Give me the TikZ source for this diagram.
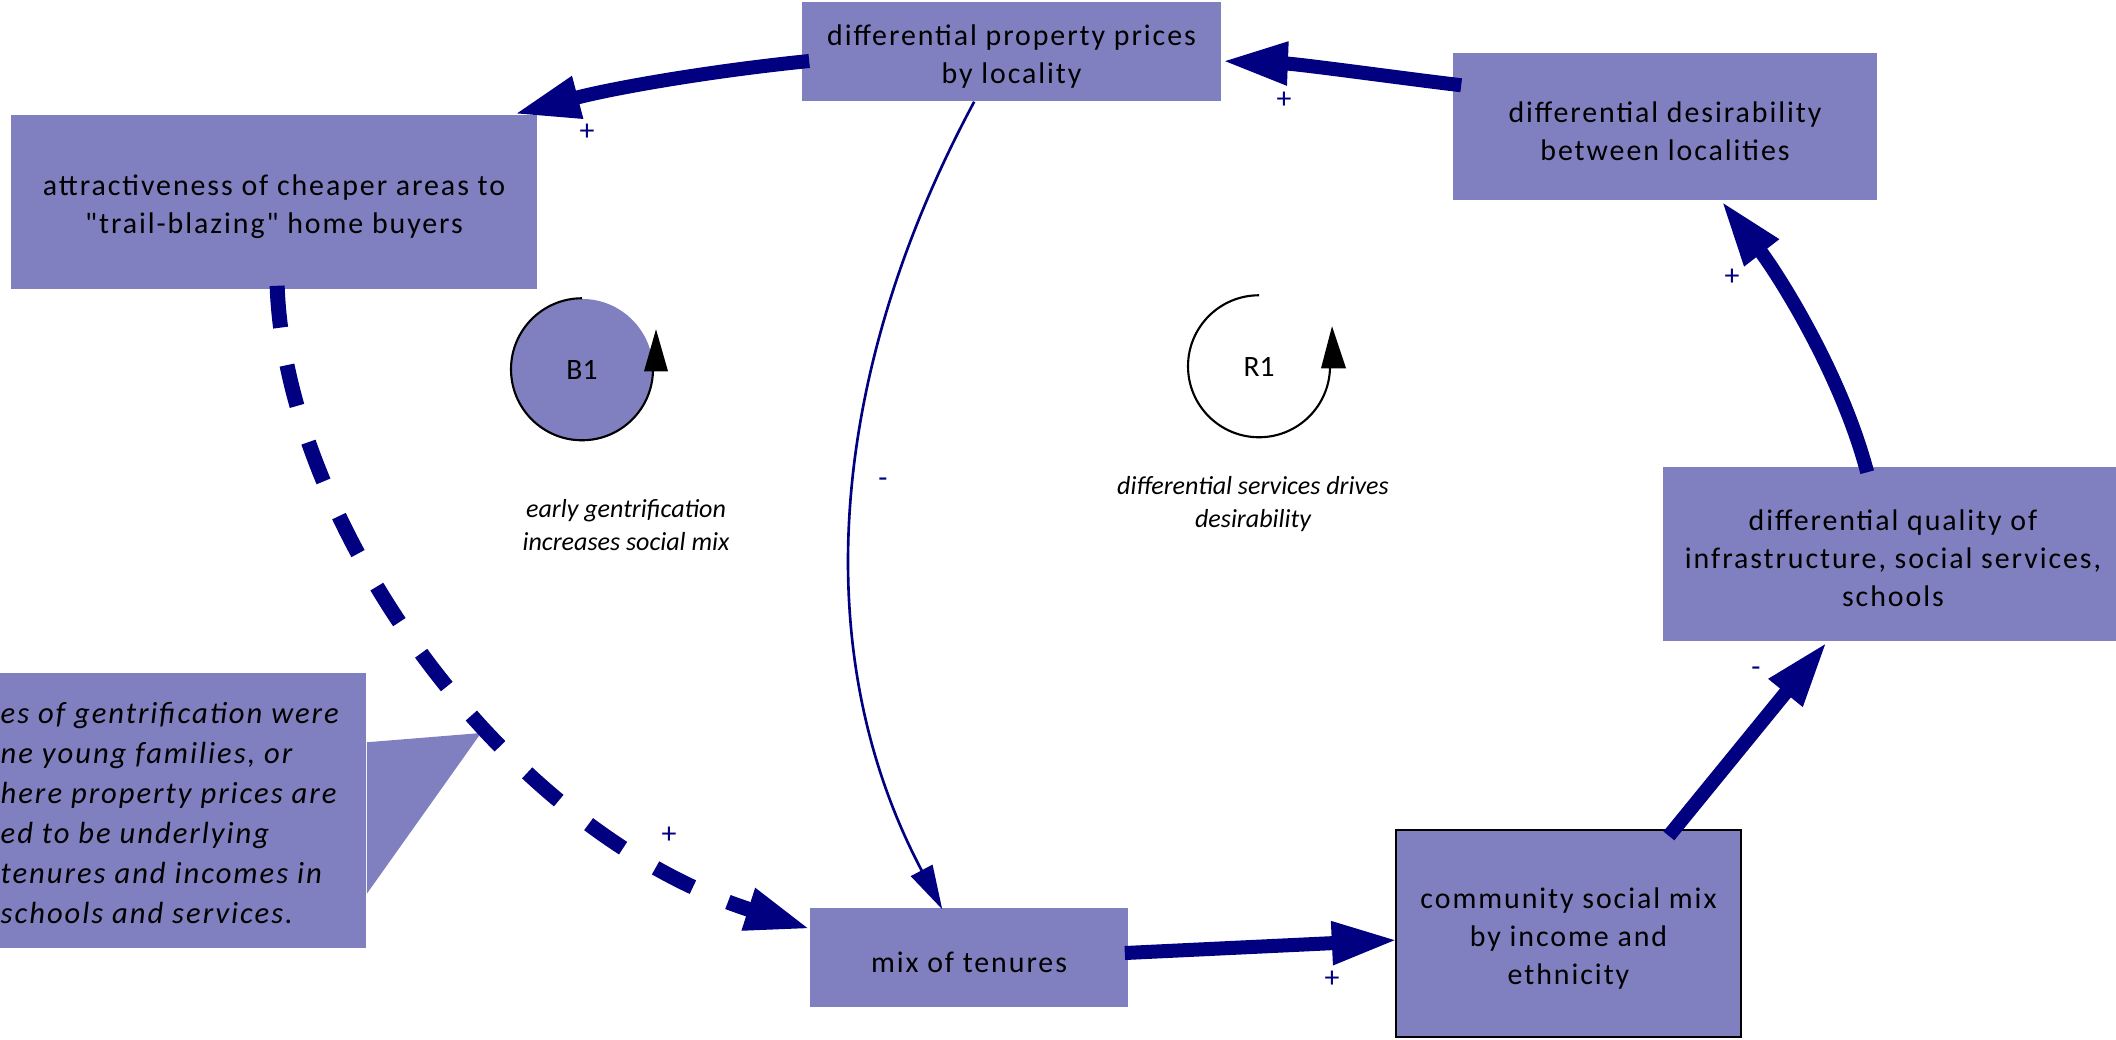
\documentclass[tikz,border=0pt]{standalone}
\usepackage{fontspec}
\setmainfont{Carlito}
\newfontfamily\boxfont[LetterSpace=6.5]{Carlito}
\usetikzlibrary{arrows.meta}
\definecolor{boxfill}{RGB}{128,128,192}
\definecolor{linkblue}{RGB}{0,0,128}
\newcommand\toppad{\rule{0pt}{8.5pt}}
\tikzset{
  var/.style={rectangle, fill=boxfill, inner sep=0pt, align=center,
    font=\boxfont\fontsize{8.5pt}{10.8pt}\selectfont},
  strong/.style={draw=linkblue, line width=0.14cm,
    -{Triangle[length=0.66cm,width=0.40cm]}},
  weak/.style={draw=linkblue, line width=0.75pt,
    -{Triangle[length=0.44cm,width=0.24cm]}},
  dashedlink/.style={strong, line width=0.15cm, dash pattern=on 0.42cm off 0.38cm},
  pol/.style={text=linkblue, inner sep=0pt, font=\fontsize{8.5pt}{10pt}\selectfont},
  looplabel/.style={inner sep=0pt, align=center, font=\itshape\fontsize{7.4pt}{9.4pt}\selectfont},
  loopname/.style={font=\fontsize{8.4pt}{10pt}\selectfont},
  looparc/.style={draw=black, line width=0.6pt},
  notetext/.style={inner sep=0pt, align=left, font=\boxfont\itshape\fontsize{8.7pt}{11.4pt}\selectfont},
}
\begin{document}
\begin{tikzpicture}[x=0.01cm, y=-0.01cm]
\useasboundingbox (0,0) rectangle (2116,1039);

% variables
\node[var, minimum width=4.19cm, minimum height=0.99cm] (prop) at (1011.5,51.5) {\toppad differential property prices\\by locality};
\node[var, minimum width=5.26cm, minimum height=1.74cm] (attr) at (274,202) {\toppad attractiveness of cheaper areas to\\"trail-blazing" home buyers};
\node[var, minimum width=4.24cm, minimum height=1.47cm] (desir) at (1665,126.5) {\toppad differential desirability\\between localities};
\node[var, minimum width=4.60cm, minimum height=1.74cm] (qual) at (1893,554) {\toppad differential quality of\\infrastructure, social services,\\schools};
\node[var, minimum width=3.18cm, minimum height=0.99cm] (mix) at (969,957.5) {\toppad mix of tenures};
\node[var, draw=black, line width=0.6pt, minimum width=3.45cm, minimum height=2.07cm] (comm) at (1568.5,933.5) {\toppad community social mix\\by income and\\ethnicity};

% callout
\node[rectangle, fill=boxfill, inner sep=0pt, minimum width=3.76cm, minimum height=2.75cm] (note) at (178,810.5) {};
\coordinate (notetip) at (481,733);
\fill[boxfill] ([yshift=-0.70cm]note.north east) -- (notetip) -- ([yshift=0.55cm]note.south east) -- cycle;
\node[notetext, anchor=west] (notet) at (0,813) {es of gentrification were\\ne young families, or\\here property prices are\\ed to be underlying\\tenures and incomes in\\schools and services.};

% loop markers
\node[circle, fill=boxfill, inner sep=0pt, minimum size=1.42cm, loopname] (b1) at (582,370) {B1};
\draw[looparc] (b1.north) arc[start angle=-90, end angle=-360, radius=71] coordinate (b1end);
\fill[black] ([shift={(-9,2)}]b1end) -- ([shift={(15,2)}]b1end) -- ([shift={(3,-40)}]b1end) -- cycle;
\node[circle, inner sep=0pt, minimum size=1.42cm, loopname] (r1) at (1259,367) {R1};
\draw[looparc] (r1.north) arc[start angle=-90, end angle=-360, radius=71] coordinate (r1end);
\fill[black] ([shift={(-9,2)}]r1end) -- ([shift={(16,2)}]r1end) -- ([shift={(2,-40)}]r1end) -- cycle;
\node[looplabel] (b1lab) at (626,525) {early gentrification\\increases social mix};
\node[looplabel] (r1lab) at (1253,504) {differential services drives\\desirability};

% links
\draw[strong] ([shift={(8,9.5)}]prop.west) .. controls (710,71) and (613,88) .. ([shift={(-24,0)}]attr.north east);
\draw[strong] ([shift={(9,33)}]desir.north west) .. controls (1400,78) and (1300,64) .. ([shift={(0,9.5)}]prop.east);
\draw[strong] ([shift={(205,6)}]qual.north west) .. controls (1840,370) and (1775,270) .. ([shift={(269,0)}]desir.south west);
\draw[strong] ([shift={(274,7)}]comm.north west) -- ([shift={(165,0)}]qual.south west);
\draw[strong] ([shift={(-4,-4.5)}]mix.east) -- ([shift={(3,6.5)}]comm.west);
\draw[dashedlink] ([shift={(267,-4)}]attr.south west) .. controls (285,520) and (500,830) .. ([shift={(2,22)}]mix.north west);
\draw[weak] ([shift={(173,0)}]prop.south west) .. controls (830,370) and (805,650) .. ([shift={(133,2)}]mix.north west);

% polarities
\node[pol] (s1) at (587,132) {+};
\node[pol] (s2) at (1284,100) {+};
\node[pol] (s3) at (1732,277) {+};
\node[pol] (s4) at (1756,672) {-};
\node[pol] (s5) at (1332,979) {+};
\node[pol] (s6) at (669,835) {+};
\node[pol] (s7) at (883,483) {-};
\end{tikzpicture}
\end{document}
